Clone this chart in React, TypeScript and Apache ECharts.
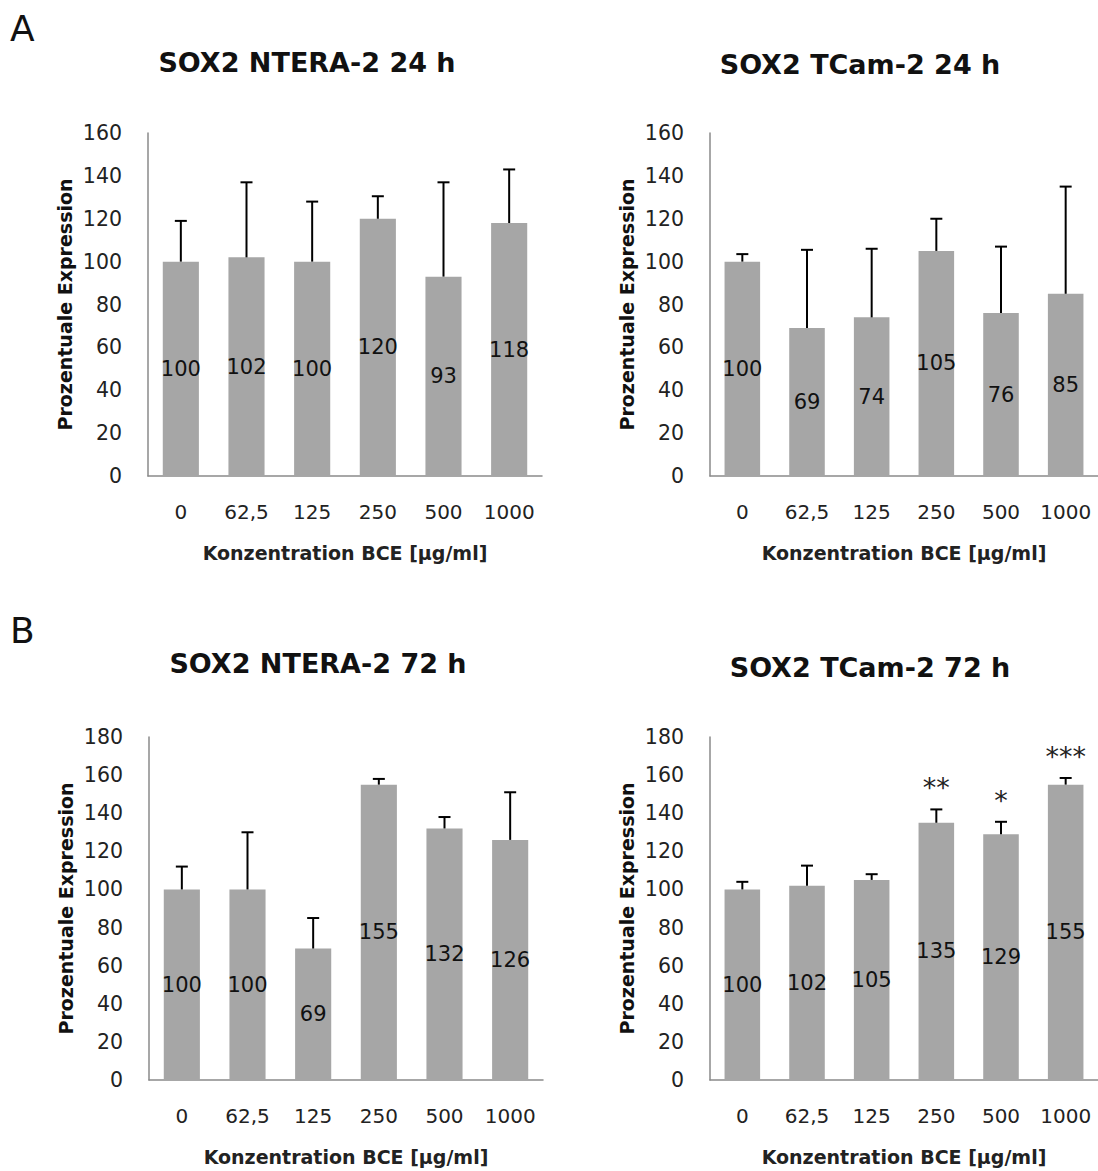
import React, { useEffect, useRef } from "react";
import * as echarts from "echarts";

const categories = ["0", "62,5", "125", "250", "500", "1000"];

const nteraValues24 = [100, 102, 100, 120, 93, 118];
const nteraErrors24 = [19, 35, 28, 10.5, 44, 25];
const tcamValues24 = [100, 69, 74, 105, 76, 85];
const tcamErrors24 = [3.5, 36.5, 32, 15, 31, 50];
const nteraValues72 = [100, 100, 69, 155, 132, 126];
const nteraErrors72 = [12, 30, 16, 3, 6, 25];
const tcamValues72 = [100, 102, 105, 135, 129, 155];
const tcamErrors72 = [4, 10.5, 3, 7, 6.5, 3.5];
const tcamStars72 = ["", "", "", "**", "*", "***"];
const noStars = ["", "", "", "", "", ""];

const panelTitles = [
  "SOX2 NTERA-2 24 h",
  "SOX2 TCam-2 24 h",
  "SOX2 NTERA-2 72 h",
  "SOX2 TCam-2 72 h",
];
const yMaxes = [160, 160, 180, 180];
const yAxisName = "Prozentuale Expression";
const xAxisName = "Konzentration BCE [µg/ml]";

const FONT = "DejaVu Sans";
const BAR_COLOR = "#a6a6a6";
const AXIS_COLOR = "#8a8a8a";

const panels = [
  { values: nteraValues24, errors: nteraErrors24, stars: noStars },
  { values: tcamValues24, errors: tcamErrors24, stars: noStars },
  { values: nteraValues72, errors: nteraErrors72, stars: noStars },
  { values: tcamValues72, errors: tcamErrors72, stars: tcamStars72 },
];

const grids = [
  { left: 148, top: 133, width: 394, height: 343 },
  { left: 710, top: 133, width: 393, height: 343 },
  { left: 149, top: 737, width: 394, height: 343 },
  { left: 710, top: 737, width: 393, height: 343 },
];

const titlePos = [
  { x: 302, y: 44 },
  { x: 855, y: 46 },
  { x: 313, y: 645 },
  { x: 865, y: 649 },
];

export default function App() {
  const ref = useRef<HTMLDivElement>(null);
  useEffect(() => {
    if (!ref.current) return;
    const chart = echarts.init(ref.current, null, { renderer: "svg" });

    const series: any[] = [];
    panels.forEach((p, i) => {
      series.push({
        type: "bar",
        xAxisIndex: i,
        yAxisIndex: i,
        data: p.values,
        barWidth: "55%",
        itemStyle: { color: BAR_COLOR },
        label: {
          show: true,
          position: "inside",
          color: "#111",
          fontFamily: FONT,
          fontSize: 21,
        },
        z: 2,
      });
      const stars = p.stars;
      series.push({
        type: "custom",
        xAxisIndex: i,
        yAxisIndex: i,
        z: 5,
        data: p.values.map((v, k) => [k, v, p.errors[k]]),
        encode: { x: 0, y: 1 },
        renderItem: (params: any, api: any) => {
          const idx = api.value(0);
          const v = api.value(1);
          const e = api.value(2);
          const base = api.coord([idx, v]);
          const top = api.coord([idx, v + e]);
          const children: any[] = [
            {
              type: "line",
              shape: { x1: base[0], y1: base[1], x2: top[0], y2: top[1] },
              style: { stroke: "#000", lineWidth: 2 },
            },
            {
              type: "line",
              shape: { x1: top[0] - 6, y1: top[1], x2: top[0] + 6, y2: top[1] },
              style: { stroke: "#000", lineWidth: 2 },
            },
          ];
          const s = stars[params.dataIndex];
          if (s) {
            children.push({
              type: "text",
              x: top[0],
              y: top[1] - 8,
              style: {
                text: s,
                fontFamily: FONT,
                fontSize: 27,
                fill: "#222",
                align: "center",
                verticalAlign: "bottom",
              },
            });
          }
          return { type: "group", children };
        },
      });
    });

    const option: any = {
      animation: false,
      backgroundColor: "#ffffff",
      title: panelTitles.map((t, i) => ({
        text: t,
        left: titlePos[i].x,
        top: titlePos[i].y,
        textAlign: "center",
        textStyle: {
          fontFamily: FONT,
          fontWeight: "bold",
          fontSize: 27,
          color: "#111",
        },
      })),
      graphic: [
        {
          type: "text",
          left: 10,
          top: 10,
          style: { text: "A", fontFamily: FONT, fontSize: 36, fill: "#111" },
        },
        {
          type: "text",
          left: 10,
          top: 612,
          style: { text: "B", fontFamily: FONT, fontSize: 36, fill: "#111" },
        },
      ],
      grid: grids,
      xAxis: grids.map((_, i) => ({
        type: "category",
        gridIndex: i,
        data: categories,
        axisLine: { show: true, lineStyle: { color: AXIS_COLOR, width: 1.5 } },
        axisTick: { show: false },
        axisLabel: {
          interval: 0,
          hideOverlap: false,
          margin: 26,
          fontFamily: FONT,
          fontSize: 20,
          color: "#222",
        },
        name: xAxisName,
        nameLocation: "middle",
        nameGap: 67,
        nameTextStyle: {
          fontFamily: FONT,
          fontWeight: "bold",
          fontSize: 19,
          color: "#222",
        },
      })),
      yAxis: grids.map((_, i) => ({
        type: "value",
        gridIndex: i,
        min: 0,
        max: yMaxes[i],
        interval: 20,
        axisLine: { show: true, lineStyle: { color: AXIS_COLOR, width: 1.5 } },
        axisTick: { show: false },
        splitLine: { show: false },
        axisLabel: {
          margin: 26,
          fontFamily: FONT,
          fontSize: 20.5,
          color: "#222",
        },
        name: yAxisName,
        nameLocation: "middle",
        nameGap: 74,
        nameTextStyle: {
          fontFamily: FONT,
          fontWeight: "bold",
          fontSize: 19,
          color: "#111",
        },
      })),
      series,
    };
    chart.setOption(option);
    return () => chart.dispose();
  }, []);

  return (
    <div
      ref={ref}
      style={{ position: "absolute", left: 0, top: 0, width: 1098, height: 1171, background: "#fff" }}
    />
  );
}
